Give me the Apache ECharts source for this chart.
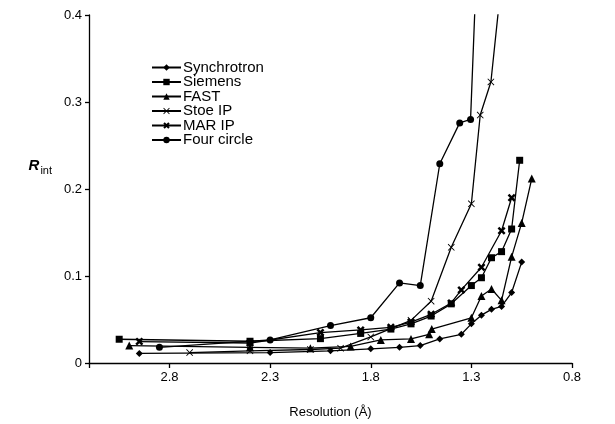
<!DOCTYPE html>
<html><head><meta charset="utf-8">
<script src="https://cdn.jsdelivr.net/npm/echarts@6/dist/echarts.min.js"></script>
<style>html,body{margin:0;padding:0;background:#fff}#c{width:615px;height:424px}</style>
</head><body><div id="c"></div>
<script>
// ---- data ----
const seriesNames = ['Synchrotron', 'Siemens', 'FAST', 'Stoe IP', 'MAR IP', 'Four circle'];
const xTickLabels = ['2.8', '2.3', '1.8', '1.3', '0.8'];
const yTickLabels = ['0', '0.1', '0.2', '0.3', '0.4'];

const synchrotronRes = [2.95, 2.30, 2.00, 1.80, 1.657, 1.554, 1.457, 1.35, 1.30, 1.25, 1.20, 1.15, 1.10, 1.05];
const synchrotronR   = [0.011, 0.012, 0.014, 0.0163, 0.018, 0.020, 0.0277, 0.033, 0.045, 0.055, 0.0617, 0.065, 0.081, 0.116];

const siemensRes = [3.05, 2.40, 2.05, 1.85, 1.70, 1.60, 1.50, 1.40, 1.30, 1.25, 1.20, 1.15, 1.10, 1.06];
const siemensR   = [0.0273, 0.025, 0.028, 0.034, 0.039, 0.045, 0.054, 0.068, 0.089, 0.098, 0.121, 0.128, 0.154, 0.233];

const fastRes = [3.00, 2.40, 2.10, 1.90, 1.75, 1.60, 1.51, 1.497, 1.30, 1.25, 1.20, 1.15, 1.10, 1.05, 1.00];
const fastR   = [0.020, 0.018, 0.017, 0.019, 0.0265, 0.0277, 0.033, 0.039, 0.052, 0.077, 0.085, 0.072, 0.122, 0.161, 0.212];

const stoeRes = [2.70, 2.40, 2.10, 1.95, 1.80, 1.60, 1.50, 1.40, 1.30, 1.256, 1.203, 1.15];
const stoeR   = [0.012, 0.014, 0.0155, 0.017, 0.030, 0.049, 0.071, 0.133, 0.183, 0.285, 0.323, 0.44];

const marRes = [2.95, 2.40, 2.05, 1.85, 1.70, 1.60, 1.50, 1.40, 1.35, 1.25, 1.15, 1.10];
const marR   = [0.0246, 0.023, 0.035, 0.038, 0.041, 0.047, 0.056, 0.069, 0.084, 0.110, 0.152, 0.190];

const fourCircleRes = [2.85, 2.30, 2.00, 1.80, 1.657, 1.554, 1.457, 1.358, 1.304, 1.25];
const fourCircleR   = [0.018, 0.0265, 0.043, 0.052, 0.092, 0.089, 0.229, 0.276, 0.280, 0.60];

// ---- build ----
const zip = (a, b) => a.map((v, i) => [v, b[i]]);
const seriesData = [
  zip(synchrotronRes, synchrotronR),
  zip(siemensRes, siemensR),
  zip(fastRes, fastR),
  zip(stoeRes, stoeR),
  zip(marRes, marR),
  zip(fourCircleRes, fourCircleR)
];
const thinX = 'path://M0,0.9 L0.9,0 L5,4.1 L9.1,0 L10,0.9 L5.9,5 L10,9.1 L9.1,10 L5,5.9 L0.9,10 L0,9.1 L4.1,5 Z';
const thickX = 'path://M0,2.2 L2.2,0 L5,2.8 L7.8,0 L10,2.2 L7.2,5 L10,7.8 L7.8,10 L5,7.2 L2.2,10 L0,7.8 L2.8,5 Z';
const symbols = ['diamond', 'rect', 'triangle', thinX, thickX, 'circle'];
const sizes = [7, 7, 8, 7, 8, 7];

const FONT = '"Liberation Sans", Arial, Helvetica, sans-serif';
const chart = echarts.init(document.getElementById('c'), null, {renderer: 'canvas'});
chart.setOption({
  animation: false,
  backgroundColor: '#fff',
  textStyle: {fontFamily: FONT, color: '#000'},
  grid: {left: 89, right: 43, top: 15, bottom: 57, containLabel: false},
  legend: {
    orient: 'vertical', left: 151, top: 60,
    itemWidth: 29, itemHeight: 8, itemGap: -0.5, padding: 0,
    data: seriesNames,
    textStyle: {fontFamily: FONT, fontSize: 15, color: '#000', lineHeight: 14, padding: [0, 0, 0, -3]},
    inactiveColor: '#000'
  },
  xAxis: {
    type: 'value', inverse: true, min: 0.8, max: 3.2, interval: 0.5,
    name: 'Resolution (Å)', nameLocation: 'middle', nameGap: 43,
    nameTextStyle: {fontFamily: FONT, fontSize: 13, color: '#000'},
    axisLine: {show: true, onZero: false, lineStyle: {color: '#000', width: 1.3}},
    axisTick: {show: true, length: 5, lineStyle: {color: '#000', width: 1.3}},
    axisLabel: {
      fontFamily: FONT, fontSize: 13, color: '#000', margin: 8,
      formatter: v => { const s = (+v).toFixed(1); return xTickLabels.includes(s) ? s : ''; }
    },
    splitLine: {show: false}
  },
  yAxis: {
    type: 'value', min: 0, max: 0.4, interval: 0.1,
    name: '{r|R}{s|int}', nameLocation: 'middle', nameRotate: 0, nameGap: 37,
    nameTextStyle: {
      padding: [0, 0, 46, 0],
      rich: {
        r: {fontFamily: FONT, fontSize: 15, fontStyle: 'italic', fontWeight: 'bold', color: '#000', lineHeight: 20, verticalAlign: 'middle'},
        s: {fontFamily: FONT, fontSize: 11, color: '#000', lineHeight: 12, verticalAlign: 'bottom', padding: [0, 0, 0, 1]}
      }
    },
    axisLine: {show: true, lineStyle: {color: '#000', width: 1.3}},
    axisTick: {show: true, length: 4, lineStyle: {color: '#000', width: 1.3}},
    axisLabel: {
      fontFamily: FONT, fontSize: 13, color: '#000', margin: 7,
      formatter: v => { const i = Math.round(v * 10); return yTickLabels[i] !== undefined ? yTickLabels[i] : ''; }
    },
    splitLine: {show: false}
  },
  series: seriesNames.map((n, i) => ({
    name: n, type: 'line', data: seriesData[i],
    symbol: symbols[i], symbolSize: sizes[i], showAllSymbol: true,
    clip: true,
    lineStyle: {color: '#000', width: 1.3},
    itemStyle: {color: '#000', borderColor: '#000', borderWidth: 0},
    emphasis: {disabled: true}
  }))
});
</script>
</body></html>
